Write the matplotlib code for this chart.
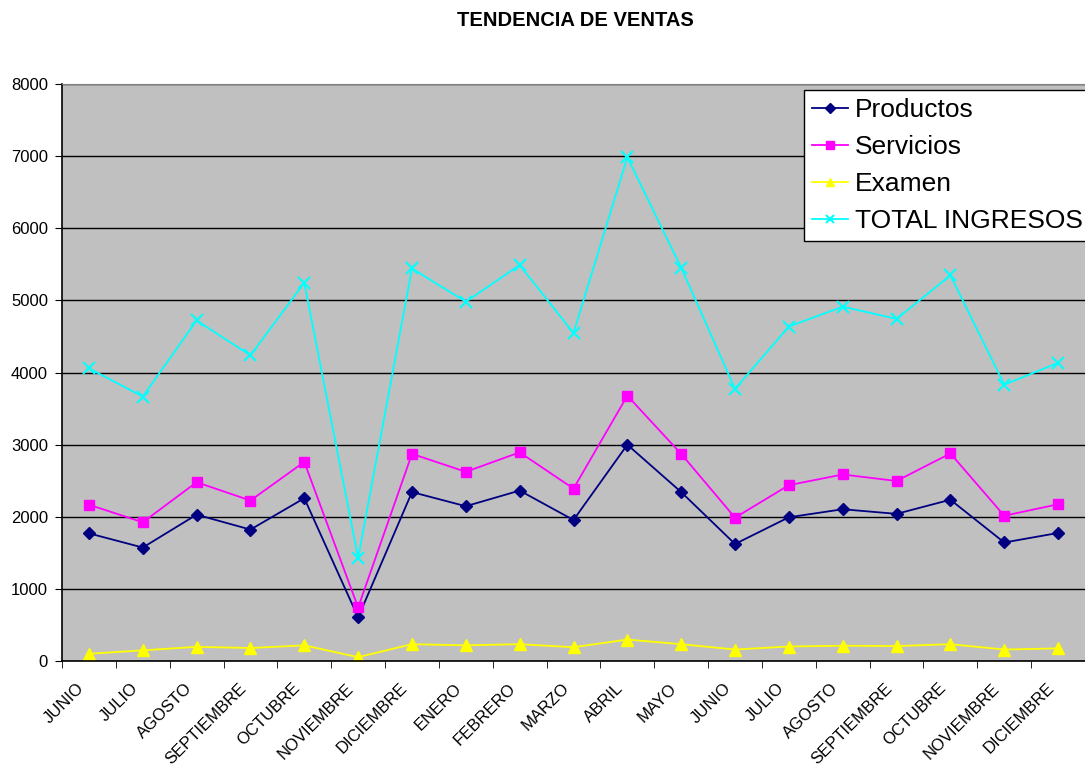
import matplotlib.pyplot as plt
import matplotlib.transforms as mtransforms
import numpy as np

meses = ["JUNIO", "JULIO", "AGOSTO", "SEPTIEMBRE", "OCTUBRE", "NOVIEMBRE", "DICIEMBRE",
         "ENERO", "FEBRERO", "MARZO", "ABRIL", "MAYO", "JUNIO", "JULIO", "AGOSTO",
         "SEPTIEMBRE", "OCTUBRE", "NOVIEMBRE", "DICIEMBRE"]
productos = [1770, 1573, 2029, 1822, 2257, 604, 2342, 2146, 2363, 1955, 2999, 2342,
             1622, 1993, 2104, 2040, 2236, 1643, 1775]
servicios = [2167, 1923, 2479, 2225, 2760, 742, 2872, 2623, 2893, 2390, 3678, 2872,
             1987, 2438, 2586, 2496, 2878, 2014, 2173]
examen = [100, 148, 196, 180, 217, 53, 233, 217, 233, 191, 297, 233,
          159, 201, 212, 207, 233, 159, 175]
total = [4058, 3666, 4721, 4238, 5245, 1430, 5442, 4981, 5490, 4547, 6985, 5453,
         3773, 4637, 4913, 4743, 5347, 3831, 4134]

plt.rcParams['font.family'] = ['Liberation Sans', 'DejaVu Sans']

fig = plt.figure(figsize=(10.85, 7.69), dpi=100)
ax = fig.add_axes([62 / 1085, 1 - 661 / 769, 1 - 62 / 1085, (661 - 84) / 769])
ax.set_facecolor("#C0C0C0")

x = np.arange(len(meses))
ax.plot(x, productos, color="#000080", marker="D", markersize=6, lw=1.3, label="Productos")
ax.plot(x, servicios, color="#FF00FF", marker="s", markersize=7, lw=1.3, label="Servicios")
ax.plot(x, examen, color="#FFFF00", marker="^", markersize=8, lw=1.3, label="Examen")
ax.plot(x, total, color="#00FFFF", marker="x", markersize=8, mew=1.5, lw=1.3, label="TOTAL INGRESOS")

ax.set_ylim(0, 8000)
ax.set_yticks(range(0, 8001, 1000))
ax.yaxis.grid(True, color="black", lw=1)
ax.set_axisbelow(True)
ax.set_xlim(-0.5, len(meses) - 0.5)
ax.set_xticks(x)
ax.set_xticklabels(meses, rotation=45, ha="right", va="top", rotation_mode="anchor")
ax.set_xticks(np.arange(-0.5, len(meses), 1), minor=True)
ax.tick_params(axis="x", which="major", length=0, pad=14, labelsize=12)
ax.tick_params(axis="x", which="minor", length=5, color="black")
ax.tick_params(axis="y", length=5, labelsize=12, pad=5)

shift = mtransforms.ScaledTranslation(-12 / 100, 0, fig.dpi_scale_trans)
for lab in ax.get_xticklabels():
    lab.set_transform(lab.get_transform() + shift)

ax.spines["right"].set_visible(False)
ax.spines["top"].set_color("#808080")
ax.spines["left"].set_color("black")
ax.spines["bottom"].set_color("black")
ax.spines["left"].set_linewidth(1.2)
ax.spines["bottom"].set_linewidth(1.2)

fig.text(575 / 1085, 1 - 20 / 769, "TENDENCIA DE VENTAS", ha="center", va="center",
         fontsize=14.5, fontweight="bold")

leg = ax.legend(loc="upper left", bbox_to_anchor=(804 / 1085, 1 - 90 / 769),
                bbox_transform=fig.transFigure, fontsize=19, frameon=True,
                fancybox=False, framealpha=1, edgecolor="black", borderpad=0.3,
                labelspacing=0.5, handlelength=1.35, handletextpad=0.27, borderaxespad=0,
                markerscale=0.8)
leg.get_frame().set_linewidth(1)

fig.savefig("out.png", dpi=100)
